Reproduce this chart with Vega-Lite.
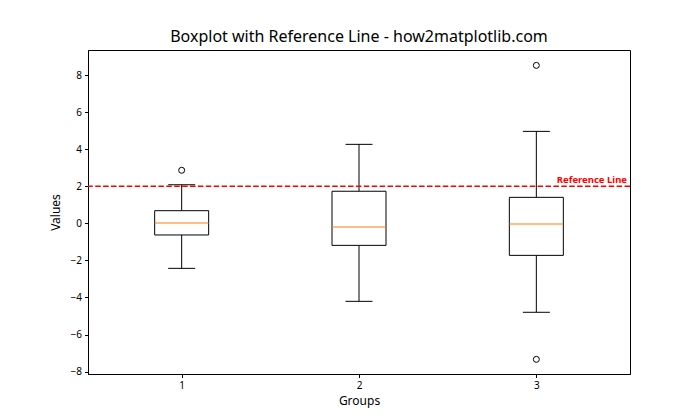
{
  "$schema": "https://vega.github.io/schema/vega-lite/v6.json",
  "width": 542,
  "height": 324,
  "autosize": {"type": "none"},
  "padding": {"left": 88, "top": 50, "right": 70, "bottom": 46},
  "background": "white",
  "config": {
    "font": "Noto Sans",
    "view": {"stroke": "#000000", "strokeWidth": 1},
    "axis": {
      "domainColor": "#000000",
      "tickColor": "#000000",
      "labelColor": "#000000",
      "titleColor": "#000000",
      "labelFontSize": 10,
      "titleFontSize": 12,
      "titleFontWeight": "normal",
      "tickSize": 3.5,
      "grid": false,
      "labelFont": "Noto Sans",
      "titleFont": "Noto Sans"
    }
  },
  "title": {
    "text": "Boxplot with Reference Line - how2matplotlib.com",
    "fontSize": 16,
    "fontWeight": "normal",
    "font": "Noto Sans",
    "color": "#000000",
    "offset": 5
  },
  "datasets": {
    "boxes": [
      {"group": 1, "lo": -2.43, "q1": -0.63, "median": 0.02, "q3": 0.68, "hi": 2.08},
      {"group": 2, "lo": -4.21, "q1": -1.19, "median": -0.2, "q3": 1.73, "hi": 4.26},
      {"group": 3, "lo": -4.80, "q1": -1.73, "median": -0.04, "q3": 1.40, "hi": 4.96}
    ],
    "outliers": [
      {"group": 1, "value": 2.86},
      {"group": 3, "value": 8.52},
      {"group": 3, "value": -7.34}
    ],
    "ref": [{"value": 2, "label": "Reference Line", "xpos": 3.5}]
  },
  "layer": [
    {
      "data": {"name": "boxes"},
      "mark": {"type": "rule", "color": "#000000", "strokeWidth": 1},
      "encoding": {
        "x": {"field": "group", "type": "quantitative", "scale": {"domain": [0.5, 3.5], "nice": false, "zero": false}, "axis": {"values": [1, 2, 3], "format": "d", "title": "Groups", "labelPadding": 3, "titlePadding": 5}},
        "y": {"field": "lo", "type": "quantitative", "scale": {"domain": [-8.13, 9.35], "nice": false, "zero": false}, "axis": {"values": [-8, -6, -4, -2, 0, 2, 4, 6, 8], "title": "Values", "labelPadding": 3, "titlePadding": 8}},
        "y2": {"field": "q1"}
      }
    },
    {
      "data": {"name": "boxes"},
      "mark": {"type": "rule", "color": "#000000", "strokeWidth": 1},
      "encoding": {
        "x": {"field": "group", "type": "quantitative"},
        "y": {"field": "q3", "type": "quantitative"},
        "y2": {"field": "hi"}
      }
    },
    {
      "data": {"name": "boxes"},
      "mark": {"type": "bar", "width": 54, "fill": "white", "stroke": "#000000", "strokeWidth": 1},
      "encoding": {
        "x": {"field": "group", "type": "quantitative"},
        "y": {"field": "q1", "type": "quantitative"},
        "y2": {"field": "q3"}
      }
    },
    {
      "data": {"name": "boxes"},
      "mark": {"type": "tick", "orient": "horizontal", "size": 54, "thickness": 1, "color": "#ff7f0e", "opacity": 1},
      "encoding": {
        "x": {"field": "group", "type": "quantitative"},
        "y": {"field": "median", "type": "quantitative"}
      }
    },
    {
      "data": {"name": "boxes"},
      "mark": {"type": "tick", "orient": "horizontal", "size": 27, "thickness": 1, "color": "#000000", "opacity": 1},
      "encoding": {
        "x": {"field": "group", "type": "quantitative"},
        "y": {"field": "lo", "type": "quantitative"}
      }
    },
    {
      "data": {"name": "boxes"},
      "mark": {"type": "tick", "orient": "horizontal", "size": 27, "thickness": 1, "color": "#000000", "opacity": 1},
      "encoding": {
        "x": {"field": "group", "type": "quantitative"},
        "y": {"field": "hi", "type": "quantitative"}
      }
    },
    {
      "data": {"name": "outliers"},
      "mark": {"type": "point", "shape": "circle", "size": 36, "filled": false, "stroke": "#000000", "strokeWidth": 1, "opacity": 1},
      "encoding": {
        "x": {"field": "group", "type": "quantitative"},
        "y": {"field": "value", "type": "quantitative"}
      }
    },
    {
      "data": {"name": "ref"},
      "mark": {"type": "rule", "color": "#ff0000", "strokeWidth": 1.5, "strokeDash": [5.5, 2.4]},
      "encoding": {
        "y": {"field": "value", "type": "quantitative"}
      }
    },
    {
      "data": {"name": "ref"},
      "mark": {"type": "text", "color": "#ff0000", "fontWeight": "bold", "fontSize": 9.5, "align": "right", "baseline": "bottom", "dy": -1, "dx": 2, "font": "Noto Sans"},
      "encoding": {
        "x": {"field": "xpos", "type": "quantitative"},
        "y": {"field": "value", "type": "quantitative"},
        "text": {"field": "label"}
      }
    }
  ]
}
